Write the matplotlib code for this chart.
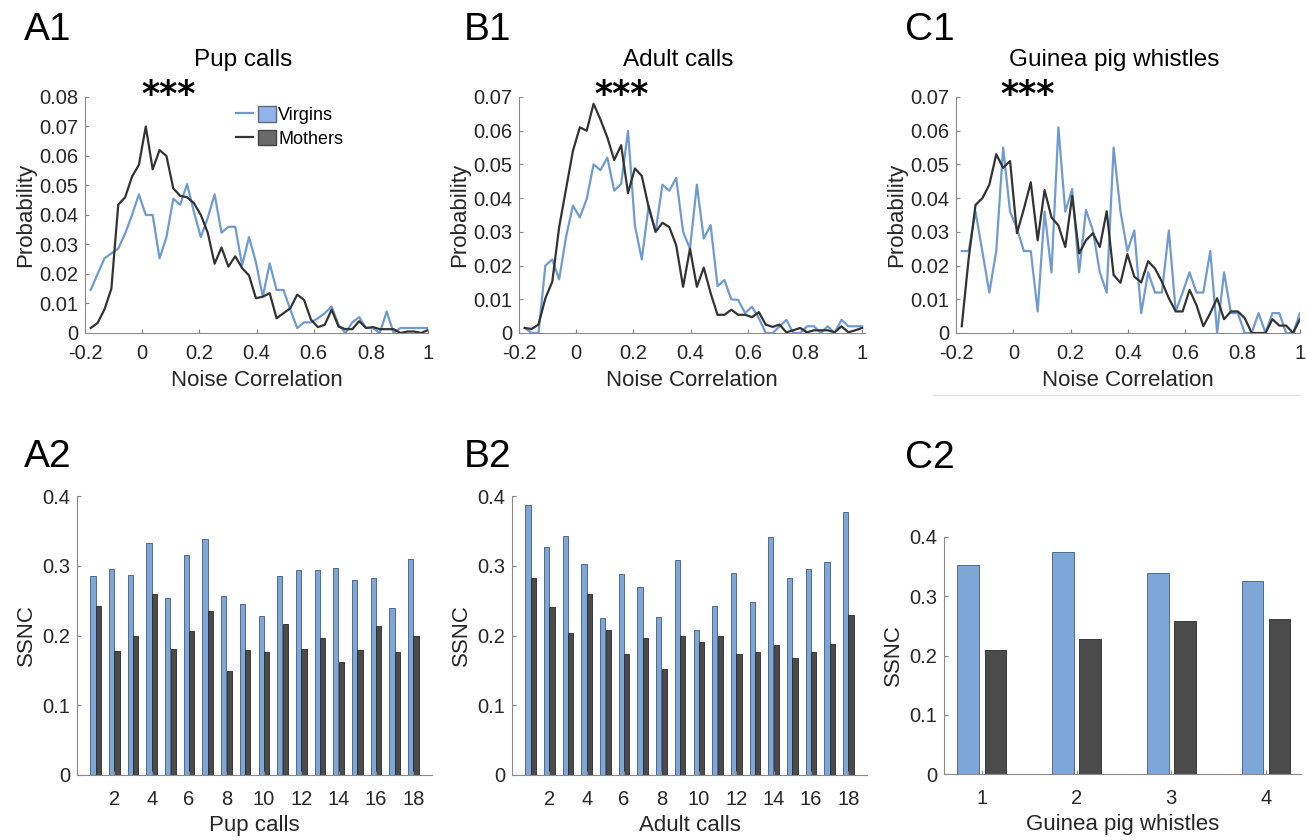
import matplotlib
matplotlib.use('Agg')
import matplotlib.pyplot as plt
import numpy as np
from matplotlib.lines import Line2D
from matplotlib.patches import Patch
from matplotlib.legend_handler import HandlerTuple

plt.rcParams['font.family'] = ['Liberation Sans', 'DejaVu Sans']

# noise correlation histograms (50 bins between -0.18 and 1)
bin_centres = np.linspace(-0.18, 1.0, 50)

pup_virgins = [0.0146, 0.020, 0.0253, 0.027, 0.0286, 0.0337, 0.040, 0.047, 0.040, 0.040,
               0.0253, 0.0325, 0.0455, 0.0435, 0.0505, 0.041, 0.0325, 0.039, 0.047, 0.034,
               0.036, 0.036, 0.023, 0.0325, 0.024, 0.0123, 0.0236, 0.0146, 0.0146, 0.0079,
               0.0017, 0.0036, 0.0036, 0.005, 0.0067, 0.009, 0.0028, 0.0, 0.0036, 0.0054,
               0.0017, 0.0017, 0.0, 0.0073, 0.0, 0.0017, 0.0017, 0.0017, 0.0017, 0.0017]
pup_mothers = [0.0017, 0.0034, 0.008, 0.015, 0.0435, 0.046, 0.053, 0.057, 0.070, 0.0555,
               0.062, 0.060, 0.049, 0.0465, 0.046, 0.044, 0.040, 0.034, 0.0235, 0.029,
               0.0225, 0.026, 0.022, 0.0195, 0.0118, 0.0123, 0.0135, 0.005, 0.0067, 0.0084,
               0.013, 0.0112, 0.0045, 0.002, 0.0028, 0.0079, 0.0022, 0.0013, 0.0013, 0.004,
               0.0017, 0.002, 0.0013, 0.0013, 0.0013, 0.0, 0.0005, 0.0005, 0.0, 0.001]

adult_virgins = [0.0015, 0.0, 0.0, 0.020, 0.0218, 0.0159, 0.0285, 0.0378, 0.0343, 0.0397,
                 0.050, 0.0483, 0.052, 0.0422, 0.0442, 0.060, 0.0319, 0.0218, 0.0378, 0.030,
                 0.044, 0.0422, 0.046, 0.030, 0.025, 0.044, 0.028, 0.032, 0.0139, 0.0157,
                 0.010, 0.0098, 0.0059, 0.0078, 0.0044, 0.0, 0.0, 0.002, 0.0039, 0.0,
                 0.0, 0.002, 0.002, 0.0, 0.002, 0.0, 0.0039, 0.002, 0.002, 0.002]
adult_mothers = [0.0015, 0.0012, 0.0025, 0.0103, 0.0152, 0.0314, 0.0427, 0.054, 0.061, 0.060,
                 0.068, 0.0633, 0.058, 0.0513, 0.0557, 0.0415, 0.0488, 0.0466, 0.0373, 0.030,
                 0.0327, 0.0314, 0.026, 0.0137, 0.025, 0.0137, 0.0194, 0.0118, 0.0054, 0.0054,
                 0.0069, 0.0054, 0.0054, 0.0047, 0.0062, 0.0025, 0.0018, 0.0025, 0.0002, 0.0008,
                 0.0015, 0.0002, 0.0008, 0.0008, 0.0008, 0.0002, 0.002, 0.0002, 0.0008, 0.0015]

gp_virgins = [0.0243, 0.0243, 0.036, 0.024, 0.012, 0.0243, 0.055, 0.036, 0.031, 0.0243,
              0.0243, 0.0064, 0.036, 0.018, 0.061, 0.036, 0.0427, 0.018, 0.0365, 0.0304,
              0.018, 0.012, 0.055, 0.036, 0.0243, 0.0304, 0.0059, 0.018, 0.012, 0.012,
              0.0304, 0.0064, 0.012, 0.018, 0.012, 0.012, 0.0243, 0.0, 0.018, 0.0059,
              0.0059, 0.0, 0.0, 0.0059, 0.0, 0.0059, 0.0059, 0.0, 0.0, 0.0059]
gp_mothers = [0.002, 0.022, 0.038, 0.040, 0.044, 0.053, 0.049, 0.051, 0.0296, 0.0368,
              0.0447, 0.0275, 0.0424, 0.0343, 0.0319, 0.0255, 0.0407, 0.0236, 0.0275, 0.0296,
              0.0255, 0.0361, 0.0172, 0.0149, 0.0234, 0.0167, 0.015, 0.0213, 0.0191, 0.0152,
              0.0103, 0.0064, 0.0064, 0.0128, 0.0083, 0.002, 0.0059, 0.0103, 0.0041, 0.0064,
              0.0064, 0.0044, 0.0, 0.0, 0.0, 0.0041, 0.0022, 0.0022, 0.0, 0.0041]

# stimulus-specific noise correlation
pup_ssnc_virgins = [0.286, 0.296, 0.287, 0.333, 0.254, 0.316, 0.339, 0.257, 0.245, 0.228,
                    0.286, 0.294, 0.294, 0.297, 0.280, 0.283, 0.239, 0.310]
pup_ssnc_mothers = [0.243, 0.178, 0.199, 0.260, 0.181, 0.207, 0.235, 0.149, 0.179, 0.177,
                    0.216, 0.181, 0.196, 0.162, 0.179, 0.213, 0.176, 0.200]
adult_ssnc_virgins = [0.387, 0.327, 0.342, 0.303, 0.225, 0.288, 0.270, 0.227, 0.308, 0.208,
                      0.243, 0.290, 0.248, 0.341, 0.283, 0.296, 0.305, 0.377]
adult_ssnc_mothers = [0.283, 0.241, 0.204, 0.259, 0.208, 0.173, 0.196, 0.152, 0.199, 0.190,
                      0.200, 0.174, 0.176, 0.187, 0.168, 0.176, 0.188, 0.230]
gp_ssnc_virgins = [0.352, 0.375, 0.339, 0.325]
gp_ssnc_mothers = [0.210, 0.228, 0.258, 0.262]

blue_line = '#6f9bd1'
black_line = '#333333'
blue_bar = '#7ea6d6'
black_bar = '#4b4b4b'
axis_col = '#8a8a8a'
text_col = '#262626'

W, H = 1307, 840
fig = plt.figure(figsize=(W / 100, H / 100), dpi=100)


def add_ax(l, t, r, b):
    return fig.add_axes([l / W, 1 - b / H, (r - l) / W, (b - t) / H])


def style(ax, xpad):
    for s in ['top', 'right']:
        ax.spines[s].set_visible(False)
    for s in ['left', 'bottom']:
        ax.spines[s].set_color(axis_col)
        ax.spines[s].set_linewidth(0.8)
    ax.tick_params(direction='in', length=3, width=0.8, color=axis_col,
                   labelcolor=text_col, labelsize=14.5)
    ax.tick_params(axis='x', pad=xpad)
    ax.tick_params(axis='y', pad=5)


def line_panel(ax, virg, moth, ymax, xmax, title, star_x):
    ax.plot(bin_centres, virg, color=blue_line, lw=1.6)
    ax.plot(bin_centres, moth, color=black_line, lw=1.6)
    ax.set_xlim(-0.2, xmax)
    ax.set_ylim(0, ymax)
    ax.set_xticks([-0.2, 0, 0.2, 0.4, 0.6, 0.8, 1])
    ax.set_xticklabels(['-0.2', '0', '0.2', '0.4', '0.6', '0.8', '1'])
    yt = np.arange(0, ymax + 1e-9, 0.01)
    ax.set_yticks(yt)
    ax.set_yticklabels(['0'] + ['%.2f' % v for v in yt[1:]])
    ax.set_xlabel('Noise Correlation', fontsize=16, color=text_col, labelpad=5)
    ax.set_ylabel('Probability', fontsize=16, color=text_col, labelpad=2)
    ax.set_title(title, fontsize=17.5, color='black', pad=22, x=0.46)
    # significance stars
    ax.text(star_x, 1.008, '***', transform=ax.get_xaxis_transform(),
            ha='center', va='center', fontsize=25, fontweight='bold', family='DejaVu Sans')
    style(ax, 8)


def bar_panel(ax, virg, moth, xlim, xticks, xlabel, off, w):
    x = np.arange(1, len(virg) + 1)
    ax.bar(x - off, virg, width=w, color=blue_bar, edgecolor='#3d5a80', lw=0.6)
    ax.bar(x + off, moth, width=w, color=black_bar, edgecolor='#2a2a2a', lw=0.6)
    ax.set_xlim(*xlim)
    ax.set_ylim(0, 0.4)
    ax.set_xticks(xticks)
    ax.set_yticks([0, 0.1, 0.2, 0.3, 0.4])
    ax.set_yticklabels(['0', '0.1', '0.2', '0.3', '0.4'])
    ax.set_xlabel(xlabel, fontsize=16, color=text_col, labelpad=4)
    ax.set_ylabel('SSNC', fontsize=16, color=text_col, labelpad=4)
    style(ax, 11)


axA1 = add_ax(85, 97, 428, 333)
line_panel(axA1, pup_virgins, pup_mothers, 0.08, 1.0, 'Pup calls', 0.093)
handles = [(Line2D([], [], color=blue_line, lw=1.6), Patch(facecolor='#8fb4ef', edgecolor='#666666')),
           (Line2D([], [], color=black_line, lw=1.6), Patch(facecolor='#6a6a6a', edgecolor='#444444'))]
axA1.legend(handles, ['Virgins', 'Mothers'], handler_map={tuple: HandlerTuple(ndivide=None, pad=0.3)},
            loc='upper left', bbox_to_anchor=(0.44, 0.96), frameon=False, fontsize=13,
            borderpad=0, borderaxespad=0, handlelength=2.2, handleheight=0.95,
            handletextpad=0.15, labelspacing=0.3)

axB1 = add_ax(519, 97, 865, 333)
line_panel(axB1, adult_virgins, adult_mothers, 0.07, 1.01, 'Adult calls', 0.16)

axC1 = add_ax(956, 97, 1300, 333)
line_panel(axC1, gp_virgins, gp_mothers, 0.07, 1.0, 'Guinea pig whistles', 0.05)
fig.add_artist(Line2D([933 / W, 1300 / W], [1 - 395 / H, 1 - 395 / H], color='#e3e3e3', lw=1))

axA2 = add_ax(77, 496, 432, 775)
bar_panel(axA2, pup_ssnc_virgins, pup_ssnc_mothers, (0, 19), range(2, 19, 2), 'Pup calls', 0.145, 0.28)

axB2 = add_ax(512, 496, 867, 775)
bar_panel(axB2, adult_ssnc_virgins, adult_ssnc_mothers, (0, 19), range(2, 19, 2), 'Adult calls', 0.145, 0.28)

axC2 = add_ax(944, 537, 1301, 774)
bar_panel(axC2, gp_ssnc_virgins, gp_ssnc_mothers, (0.6, 4.37), [1, 2, 3, 4], 'Guinea pig whistles', 0.143, 0.23)

# panel letters
for lab, px, py in [('A1', 24, 40), ('B1', 464, 40), ('C1', 905, 40),
                    ('A2', 24, 467), ('B2', 464, 467), ('C2', 905, 468)]:
    fig.text(px / W, 1 - py / H, lab, fontsize=28, color='black', ha='left', va='baseline')

fig.savefig('out.png', dpi=100)
